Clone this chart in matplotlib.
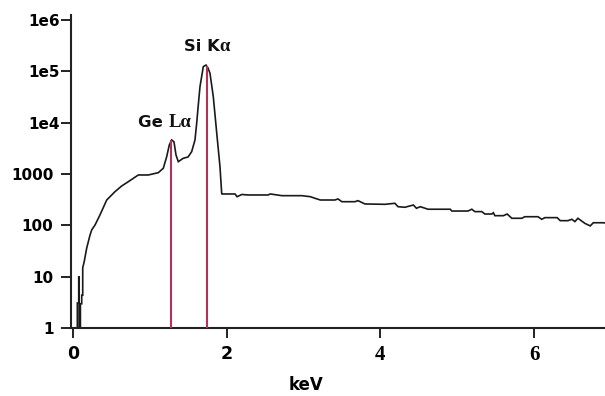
import matplotlib
matplotlib.use("Agg")
import matplotlib.pyplot as plt
from matplotlib.ticker import NullLocator
from matplotlib.offsetbox import TextArea, HPacker, AnnotationBbox

# ---- data ----
energy_kev = [0.00, 0.06, 0.06, 0.078, 0.078, 0.084, 0.084, 0.100, 0.100, 0.117, 0.117, 0.130, 0.130, 0.150,
              0.182, 0.225, 0.247, 0.290, 0.355, 0.442, 0.550, 0.637, 0.723, 0.853, 0.983, 1.113, 1.178,
              1.222, 1.256, 1.287, 1.317, 1.343, 1.373, 1.438, 1.500, 1.547, 1.590, 1.612, 1.633, 1.655,
              1.698, 1.733, 1.759, 1.785, 1.828, 1.873, 1.915, 1.937,
              1.941, 2.110, 2.137, 2.200, 2.280, 2.540, 2.570, 2.720, 2.980, 3.090, 3.150, 3.220, 3.410,
              3.450, 3.500, 3.670, 3.710, 3.800, 4.060, 4.190, 4.230, 4.320, 4.430, 4.470, 4.520, 4.620,
              4.910, 4.930, 5.140, 5.190, 5.230, 5.320, 5.360, 5.450, 5.470, 5.490, 5.600, 5.650, 5.710,
              5.840, 5.880, 6.050, 6.100, 6.140, 6.300, 6.340, 6.440, 6.490, 6.530, 6.570, 6.660, 6.730,
              6.770, 6.900, 6.950]
counts = [1, 1, 3.1, 3.1, 10, 10, 1, 1, 3, 3, 4.4, 4.4, 15, 20,
          36.5, 65, 82, 102, 161, 313, 455, 587, 711, 960, 960, 1065, 1297,
          2180, 3680, 4610, 4220, 2350, 1742, 2030, 2150, 2730, 4610, 9730, 22100, 50200,
          123000, 132000, 116000, 91400, 32000, 6220, 1393, 423,
          410, 410, 363, 401, 392, 392, 410, 380, 380, 363, 338, 313, 313,
          328, 290, 290, 304, 262, 258, 270, 232, 226, 250, 216, 232, 207,
          207, 191, 191, 207, 186, 186, 167, 167, 177, 155, 155, 167, 138,
          138, 148, 148, 132, 142, 142, 124, 124, 132, 119, 138, 110, 98,
          113, 113, 110]

line_energies = [1.282, 1.746]
line_heights = [4500, 125000]
line_label_elements = ["Ge ", "Si K"]
line_label_series = ["Lα", "α"]
line_label_x = [1.20, 1.746]
line_label_y = [9860, 304000]

y_ticks = [1, 10, 100, 1000, 1e4, 1e5, 1e6]
y_tick_labels = ["1", "10", "100", "1000", "1e4", "1e5", "1e6"]
x_ticks = [0, 2, 4, 6]
x_tick_labels = ["0", "2", "4", "6"]
x_label = "keV"

# ---- figure ----
fig = plt.figure(figsize=(6.05, 3.96), dpi=100)
ax = fig.add_axes([0.1169, 0.171, 0.8831, 0.7912])

ax.plot(energy_kev, counts, color="#1a1a1a", lw=1.2, zorder=2, solid_joinstyle="miter")
ax.vlines(line_energies, 1, line_heights, colors="#b4325a", lw=1.5, zorder=3)

ax.set_yscale("log")
ax.set_xlim(-0.026, 6.922)
ax.set_ylim(1, 10 ** 6.095)

for s in ("top", "right"):
    ax.spines[s].set_visible(False)
for s in ("left", "bottom"):
    ax.spines[s].set_linewidth(1.5)
    ax.spines[s].set_color("#222222")

ax.set_yticks(y_ticks)
ax.set_yticklabels(y_tick_labels, fontfamily="DejaVu Sans", fontweight="bold", fontsize=11)
ax.yaxis.set_minor_locator(NullLocator())
ax.set_xticks(x_ticks)
ax.set_xticklabels(x_tick_labels, fontweight="bold")
ax.tick_params(direction="out", length=7.2, width=1.4, color="#222222")
ax.tick_params(axis="x", pad=5.0)

for lab in ax.get_xticklabels():
    if lab.get_text() in ("4", "6"):
        lab.set_fontfamily("Liberation Serif")
        lab.set_fontsize(15)
    else:
        lab.set_fontfamily("DejaVu Sans")
        lab.set_fontsize(12.5)

for t, lab in zip(ax.yaxis.get_major_ticks(), y_tick_labels):
    t.set_pad(0.6 if "e" in lab else 5.2)

ax.set_xlabel(x_label, fontfamily="DejaVu Sans", fontweight="bold", fontsize=12)
ax.xaxis.label.set_va("center")
ax.xaxis.set_label_coords(0.44, -0.1826)

for el, ser, lx, ly in zip(line_label_elements, line_label_series, line_label_x, line_label_y):
    box = HPacker(children=[
        TextArea(el, textprops=dict(family="DejaVu Sans", weight="bold", size=11.8, color="#111111")),
        TextArea(ser, textprops=dict(family="Liberation Serif", weight="bold", size=13.5, color="#111111")),
    ], align="baseline", pad=0, sep=0)
    ab = AnnotationBbox(box, (lx, ly), xycoords="data", frameon=False,
                        box_alignment=(0.5, 0.5), pad=0, annotation_clip=False)
    ax.add_artist(ab)

fig.savefig("out.png", dpi=100)
